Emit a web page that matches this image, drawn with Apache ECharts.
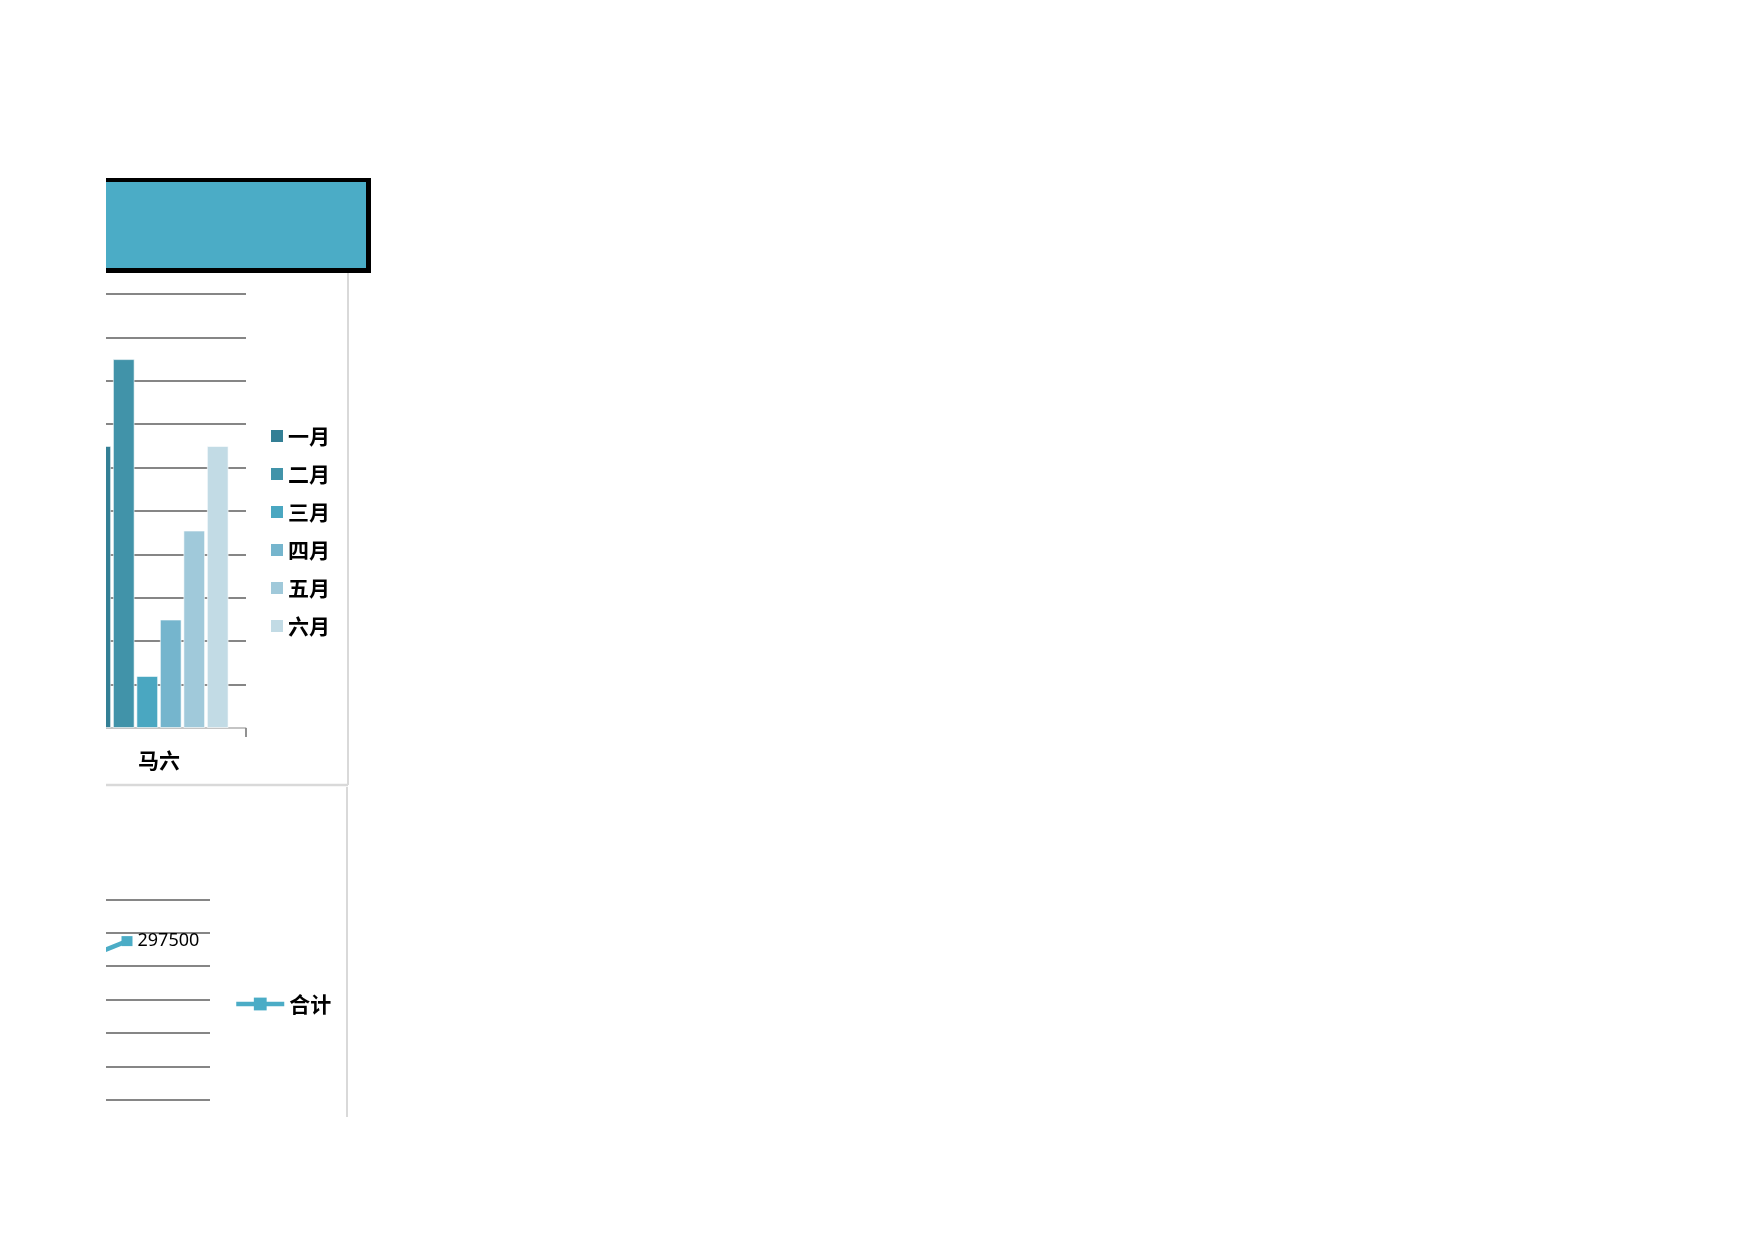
<!DOCTYPE html>
<html>
<head>
<meta charset="utf-8">
<script src="https://cdn.jsdelivr.net/npm/echarts@6/dist/echarts.min.js"></script>
<style>
  html, body { margin: 0; padding: 0; background: #fff; }
  body { width: 1754px; height: 1240px; position: relative; overflow: hidden; }
  /* the sheet is only visible from x=106 and down to y=1117 */
  #clip { position: absolute; left: 106px; top: 0; width: 1648px; height: 1117px; overflow: hidden; }
  #main { position: absolute; left: -300px; top: 0; width: 600px; height: 1240px; }
</style>
</head>
<body>
<div id="clip"><div id="main"></div></div>
<script>
// 月度数据（只露出"马六"这一组）
const barCategories = ["马六"];
const monthNames = ["一月", "二月", "三月", "四月", "五月", "六月"];
const janValues = [65000];
const febValues = [85000];
const marValues = [12000];
const aprValues = [25000];
const mayValues = [45500];
const junValues = [65000];
const monthColors = ["#337f95", "#4193a9", "#4aa7c1", "#75b5cd", "#a0c9da", "#c2dbe5"];

// 合计折线（左侧一点被裁掉，数值为估计）
const lineCategories = ["王五", "马六"];
const totalValues = [277500, 297500];

const gridColor = "#868686";
const cjk = "Noto Sans CJK SC";

const monthData = [janValues, febValues, marValues, aprValues, mayValues, junValues];

const barSeries = monthNames.map((name, i) => ({
  name: name,
  type: "bar",
  xAxisIndex: 0,
  yAxisIndex: 0,
  data: monthData[i],
  barCategoryGap: "20%",
  barGap: "8%",
  itemStyle: {
    color: monthColors[i],
    borderColor: "rgba(255,255,255,0.6)",
    borderWidth: 1,
  },
}));

const chart = echarts.init(document.getElementById("main"), null, { renderer: "canvas" });
chart.setOption({
  animation: false,
  backgroundColor: "#fff",
  graphic: [
    // 标题栏
    { type: "rect", shape: { x: 0, y: 178, width: 565, height: 95 }, style: { fill: "#000" }, z: 10 },
    { type: "rect", shape: { x: 0, y: 182, width: 560, height: 86 }, style: { fill: "#4bacc6" }, z: 11 },
    // 图表框
    { type: "line", shape: { x1: 542, y1: 273, x2: 542, y2: 785 }, style: { stroke: "#d9d9d9", lineWidth: 2 }, z: 5 },
    { type: "line", shape: { x1: 0, y1: 785, x2: 542, y2: 785 }, style: { stroke: "#d9d9d9", lineWidth: 2.5 }, z: 5 },
    { type: "line", shape: { x1: 541, y1: 787, x2: 541, y2: 1117 }, style: { stroke: "#d9d9d9", lineWidth: 2 }, z: 5 },
  ],
  grid: [
    { left: 266, right: 160, top: 294, height: 434 },
    { left: 72, right: 196, top: 899.3, height: 234.15 },
  ],
  legend: [
    {
      orient: "vertical",
      left: 465,
      top: 424,
      padding: 0,
      itemWidth: 12,
      itemHeight: 12,
      itemGap: 14,
      icon: "rect",
      itemStyle: { borderWidth: 0 },
      data: monthNames,
      textStyle: { fontFamily: cjk, fontSize: 21, fontWeight: "bold", color: "#000", lineHeight: 24 },
    },
    {
      orient: "vertical",
      left: 428,
      top: 992,
      padding: 0,
      itemWidth: 48,
      itemHeight: 16,
      data: ["合计"],
      lineStyle: { width: 4.5 },
      textStyle: { fontFamily: cjk, fontSize: 21, fontWeight: "bold", color: "#000", lineHeight: 24 },
    },
  ],
  xAxis: [
    {
      gridIndex: 0,
      type: "category",
      data: barCategories,
      axisLine: { lineStyle: { color: "#d9d9d9", width: 1.5 } },
      axisTick: { show: true, length: 9, lineStyle: { color: gridColor, width: 1.8 } },
      axisLabel: { margin: 22, fontFamily: cjk, fontSize: 21, fontWeight: "bold", color: "#000" },
    },
    {
      gridIndex: 1,
      type: "category",
      data: lineCategories,
      axisLine: { lineStyle: { color: gridColor, width: 1.8 } },
      axisTick: { show: false },
      axisLabel: { fontFamily: cjk, fontSize: 21, fontWeight: "bold", color: "#000" },
    },
  ],
  yAxis: [
    {
      gridIndex: 0,
      type: "value",
      min: 0,
      max: 100000,
      interval: 10000,
      axisLabel: { show: false },
      axisLine: { show: false },
      splitLine: { lineStyle: { color: gridColor, width: 1.8 } },
    },
    {
      gridIndex: 1,
      type: "value",
      min: 240000,
      max: 310000,
      interval: 10000,
      axisLabel: { show: false },
      axisLine: { show: false },
      splitLine: { lineStyle: { color: gridColor, width: 1.8 } },
    },
  ],
  series: barSeries.concat([
    {
      name: "合计",
      type: "line",
      xAxisIndex: 1,
      yAxisIndex: 1,
      data: totalValues,
      symbol: "rect",
      symbolSize: [11, 10],
      lineStyle: { color: "#4bacc6", width: 4.5 },
      itemStyle: { color: "#4bacc6" },
      label: {
        show: true,
        position: "right",
        distance: 5,
        fontFamily: "Noto Sans",
        fontSize: 18,
        color: "#000",
      },
    },
  ]),
});
</script>
</body>
</html>
